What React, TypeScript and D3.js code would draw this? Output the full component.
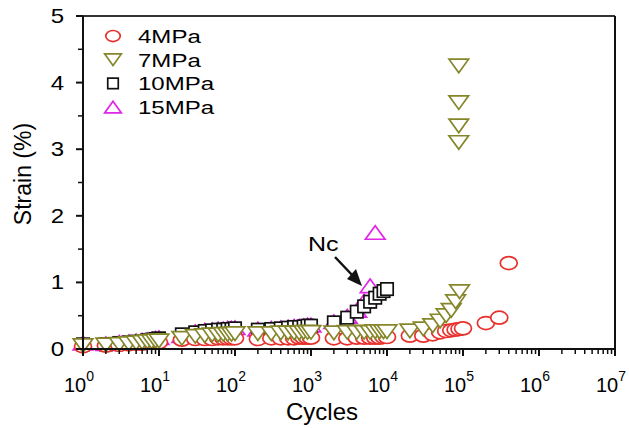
import React from "react";
import * as d3 from "d3";

// ---------- data ----------
const seriesNames = ["4MPa", "7MPa", "10MPa", "15MPa"];

const cycles4 = [1, 2, 3, 4, 5, 6, 7, 8, 9, 10, 20, 30, 40, 50, 60, 70, 80, 90, 100, 200, 300, 400, 500, 600, 700, 800, 900, 1000, 2000, 3000, 4000, 5000, 6000, 7000, 8000, 9000, 10000, 20000, 30000, 40000, 50000, 60000, 70000, 80000, 90000, 100000, 200000, 300000, 400000];
const strain4 = [0.04, 0.05, 0.06, 0.07, 0.08, 0.08, 0.09, 0.09, 0.1, 0.1, 0.14, 0.15, 0.15, 0.15, 0.16, 0.16, 0.16, 0.16, 0.16, 0.15, 0.16, 0.16, 0.16, 0.16, 0.17, 0.17, 0.17, 0.17, 0.16, 0.16, 0.17, 0.17, 0.17, 0.17, 0.17, 0.18, 0.18, 0.2, 0.2, 0.22, 0.25, 0.27, 0.28, 0.29, 0.3, 0.31, 0.39, 0.47, 1.29];

const cycles7 = [1, 2, 3, 4, 5, 6, 7, 8, 9, 10, 20, 30, 40, 50, 60, 70, 80, 90, 100, 200, 300, 400, 500, 600, 700, 800, 900, 1000, 2000, 3000, 4000, 5000, 6000, 7000, 8000, 9000, 10000, 20000, 30000, 40000, 50000, 60000, 70000, 80000, 90000, 88000, 88000, 88000, 88000];
const strain7 = [0.05, 0.06, 0.07, 0.08, 0.09, 0.1, 0.11, 0.11, 0.12, 0.12, 0.16, 0.19, 0.2, 0.21, 0.21, 0.22, 0.22, 0.22, 0.23, 0.23, 0.23, 0.24, 0.24, 0.24, 0.24, 0.25, 0.25, 0.25, 0.24, 0.25, 0.25, 0.25, 0.25, 0.26, 0.26, 0.26, 0.26, 0.27, 0.3, 0.35, 0.42, 0.5, 0.58, 0.71, 0.86, 3.1, 3.35, 3.7, 4.25];

const cycles10 = [1, 2, 3, 4, 5, 6, 7, 8, 9, 10, 20, 30, 40, 50, 60, 70, 80, 90, 100, 200, 300, 400, 500, 600, 700, 800, 900, 1000, 2000, 3000, 4000, 5000, 6000, 7000, 8000, 9000, 10000];
const strain10 = [0.07, 0.07, 0.09, 0.1, 0.11, 0.12, 0.13, 0.14, 0.15, 0.16, 0.22, 0.25, 0.27, 0.28, 0.29, 0.29, 0.3, 0.3, 0.31, 0.29, 0.3, 0.31, 0.32, 0.33, 0.33, 0.34, 0.35, 0.35, 0.4, 0.47, 0.56, 0.64, 0.71, 0.77, 0.83, 0.87, 0.9];

const cycles15 = [1, 2, 3, 4, 5, 6, 7, 8, 9, 10, 20, 30, 40, 50, 60, 70, 80, 90, 100, 200, 300, 400, 500, 600, 700, 800, 900, 1000, 2000, 3000, 4000, 5000, 6000, 7000];
const strain15 = [0.09, 0.08, 0.1, 0.11, 0.12, 0.13, 0.14, 0.15, 0.16, 0.17, 0.2, 0.26, 0.28, 0.29, 0.3, 0.3, 0.31, 0.31, 0.32, 0.3, 0.31, 0.32, 0.33, 0.34, 0.34, 0.35, 0.36, 0.36, 0.41, 0.49, 0.58, 0.72, 0.95, 1.75];

const yTicks = [0, 1, 2, 3, 4, 5];
const xTickExps = [0, 1, 2, 3, 4, 5, 6, 7];
const xTitle = "Cycles";
const yTitle = "Strain (%)";
const annotation = "Nc";

// ---------- layout ----------
const W = 629, H = 428;
const x = d3.scaleLog().domain([1, 1e7]).range([83, 615]);
const y = d3.scaleLinear().domain([0, 5]).range([349, 16]);

const COLORS = { red: "#e8302c", olive: "#85862a", black: "#111111", magenta: "#e026e6" };
const FONT = "'Liberation Sans', Arial, Helvetica, sans-serif";

function Marker({ kind, cx, cy, scale = 1 }: { kind: string; cx: number; cy: number; scale?: number }) {
  const sw = 1.7;
  if (kind === "circle") {
    return <ellipse cx={cx} cy={cy} rx={8.5 * scale} ry={6.5 * scale} fill="white" stroke={COLORS.red} strokeWidth={sw} />;
  }
  if (kind === "down") {
    const w = 9.8 * scale, h = 6.8 * scale;
    return <polygon points={`${cx - w},${cy - h} ${cx + w},${cy - h} ${cx},${cy + h}`} fill="white" stroke={COLORS.olive} strokeWidth={sw} />;
  }
  if (kind === "square") {
    const s = 6.2 * scale;
    return <rect x={cx - s} y={cy - s} width={2 * s} height={2 * s} fill="white" stroke={COLORS.black} strokeWidth={sw} />;
  }
  const w = 9.8 * scale, h = 6.8 * scale;
  return <polygon points={`${cx - w},${cy + h} ${cx + w},${cy + h} ${cx},${cy - h}`} fill="white" stroke={COLORS.magenta} strokeWidth={sw} />;
}

export default function App() {
  const minorX: number[] = [];
  for (let e = 0; e < 7; e++) for (let m = 2; m <= 9; m++) minorX.push(m * Math.pow(10, e));
  const minorY = d3.range(0.5, 5, 1);

  const series = [
    { kind: "up", cx: cycles15, v: strain15 },
    { kind: "square", cx: cycles10, v: strain10 },
    { kind: "circle", cx: cycles4, v: strain4 },
    { kind: "down", cx: cycles7, v: strain7 },
  ];
  const legendKinds = ["circle", "down", "square", "up"];

  return (
    <svg width={W} height={H} style={{ position: "absolute", left: 0, top: 0, background: "white" }} fontFamily={FONT}>
      {/* data */}
      {series.map((s, si) => (
        <g key={si}>
          {s.cx.map((c, i) => (
            <Marker key={i} kind={s.kind} cx={x(c)} cy={y(s.v[i])} />
          ))}
        </g>
      ))}

      {/* frame */}
      <line x1={83} x2={615} y1={16} y2={16} stroke="#333" strokeWidth={2} />
      <line x1={615} x2={615} y1={16} y2={349} stroke="#111" strokeWidth={2} />
      <line x1={83} x2={83} y1={16} y2={350} stroke="#111" strokeWidth={2} />
      <line x1={82} x2={616} y1={349} y2={349} stroke="#111" strokeWidth={2} />

      {/* y ticks */}
      {yTicks.map((t) => (
        <g key={t}>
          <line x1={76} x2={83} y1={y(t)} y2={y(t)} stroke="#111" strokeWidth={2} />
          <text transform={`translate(64,${y(t) + 7}) scale(1.2,1)`} textAnchor="end" fontSize={20}>{t}</text>
        </g>
      ))}
      {minorY.map((t) => (
        <line key={t} x1={78} x2={83} y1={y(t)} y2={y(t)} stroke="#111" strokeWidth={1.5} />
      ))}

      {/* x ticks */}
      {xTickExps.map((e) => {
        const px = x(Math.pow(10, e));
        return (
          <g key={e}>
            <line x1={px} x2={px} y1={349} y2={356} stroke="#111" strokeWidth={2} />
            <text x={px - 4} y={392} textAnchor="middle" fontSize={20}>
              10
              <tspan fontSize={14} dy={-11}>{e}</tspan>
            </text>
          </g>
        );
      })}
      {minorX.map((c) => (
        <line key={c} x1={x(c)} x2={x(c)} y1={349} y2={354} stroke="#111" strokeWidth={1.5} />
      ))}

      {/* titles */}
      <text x={322} y={420} textAnchor="middle" fontSize={24}>{xTitle}</text>
      <text transform={`translate(31,${174}) rotate(-90)`} textAnchor="middle" fontSize={23}>{yTitle}</text>

      {/* legend */}
      {seriesNames.map((n, i) => (
        <g key={n}>
          <Marker kind={legendKinds[i]} cx={113} cy={36 + i * 23.7} scale={0.85} />
          <text transform={`translate(138,${43 + i * 23.7}) scale(1.3,1)`} fontSize={18.5}>{n}</text>
        </g>
      ))}

      {/* annotation */}
      <text transform="translate(308,251) scale(1.25,1)" fontSize={20}>{annotation}</text>
      <line x1={335} y1={257} x2={354} y2={277} stroke="#111" strokeWidth={2.5} />
      <polygon points="362,286 347,279 356,269" fill="#111" />
    </svg>
  );
}
